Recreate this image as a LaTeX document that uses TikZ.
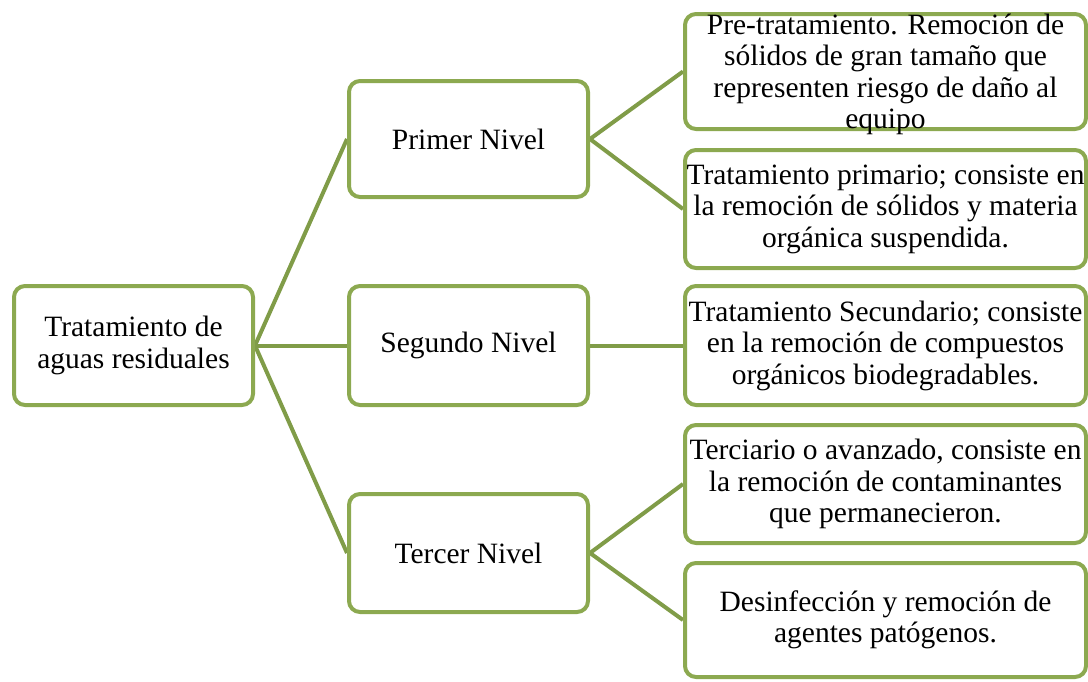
\documentclass[tikz,border=0pt]{standalone}
\usepackage{fontspec}
\setmainfont{Liberation Serif}
\usetikzlibrary{backgrounds}
\definecolor{boxgreen}{RGB}{140,169,80}
\definecolor{linegreen}{RGB}{128,156,72}
\begin{document}
\begin{tikzpicture}[x=1pt,y=1pt,
  box/.style={draw=boxgreen, line width=4pt, rounded corners=11pt, fill=white, inner sep=0pt},
  txt/.style={align=center, inner sep=0pt, font=\fontsize{29.5}{31.5}\selectfont},
  conn/.style={draw=linegreen, line width=4pt}]
\useasboundingbox (0,0) rectangle (1088,-681);
% level boxes
\node[box, minimum width=239, minimum height=119] (root) at (133.5,-345.5) {};
\node[box, minimum width=239, minimum height=116] (l1) at (468.5,-139) {};
\node[box, minimum width=239, minimum height=119] (l2) at (468.5,-345.5) {};
\node[box, minimum width=239, minimum height=118] (l3) at (468.5,-553) {};
% right boxes
\node[box, minimum width=401, minimum height=115] (r1) at (885.5,-71.5) {};
\node[box, minimum width=401, minimum height=118] (r2) at (885.5,-209) {};
\node[box, minimum width=401, minimum height=119] (r3) at (885.5,-345.5) {};
\node[box, minimum width=401, minimum height=118] (r4) at (885.5,-484) {};
\node[box, minimum width=401, minimum height=114] (r5) at (885.5,-620) {};
% texts
\node[txt] (troot) at (root.center) {Tratamiento de\\aguas residuales};
\node[txt] (tl1) at (l1.center) {Primer Nivel};
\node[txt] (tl2) at (l2.center) {Segundo Nivel};
\node[txt] (tl3) at (l3.center) {Tercer Nivel};
\node[txt] (tr1) at ([yshift=-3]r1.center) {Pre-tratamiento. Remoción de\\sólidos de gran tamaño que\\representen riesgo de daño al\\equipo};
\node[txt] (tr2) at (r2.center) {Tratamiento primario; consiste en\\la remoción de sólidos y materia\\orgánica suspendida.};
\node[txt] (tr3) at (r3.center) {Tratamiento Secundario; consiste\\en la remoción de compuestos\\orgánicos biodegradables.};
\node[txt] (tr4) at (r4.center) {Terciario o avanzado, consiste en\\la remoción de contaminantes\\que permanecieron.};
\node[txt] (tr5) at (r5.center) {Desinfección y remoción de\\agentes patógenos.};
% connectors
\begin{scope}[on background layer]
\draw[conn] (root.east) -- (l1.west);
\draw[conn] (root.east) -- (l2.west);
\draw[conn] (root.east) -- (l3.west);
\draw[conn] (l1.east) -- (r1.west);
\draw[conn] (l1.east) -- (r2.west);
\draw[conn] (l2.east) -- (r3.west);
\draw[conn] (l3.east) -- (r4.west);
\draw[conn] (l3.east) -- (r5.west);
\end{scope}
\end{tikzpicture}
\end{document}
